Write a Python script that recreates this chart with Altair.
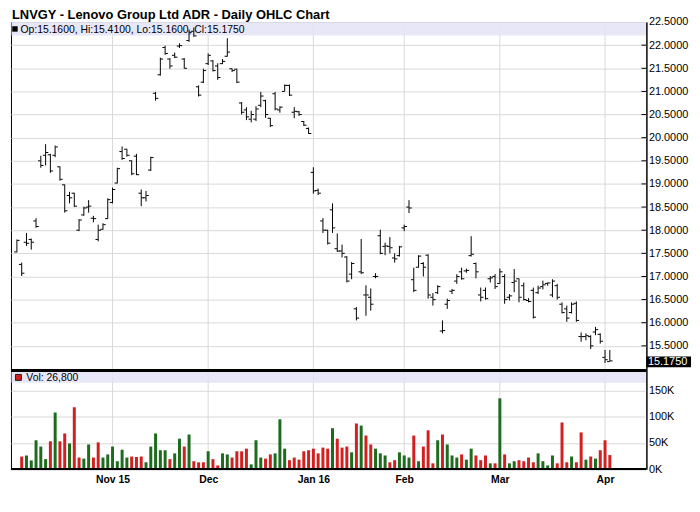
import json
import altair as alt
import pandas as pd

chart_title = "LNVGY - Lenovo Group Ltd ADR - Daily OHLC Chart"

# trading-day index of the first session of each month, and its label
month_idx = [20, 40, 62, 81, 101, 123]
month_labels = ["Nov 15", "Dec", "Jan 16", "Feb", "Mar", "Apr"]

price_ticks = [15.5, 16.0, 16.5, 17.0, 17.5, 18.0, 18.5, 19.0, 19.5, 20.0,
               20.5, 21.0, 21.5, 22.0, 22.5]
vol_ticks = [0, 50000, 100000, 150000]

opens = [17.53, 17.26, 17.74, 17.80, 18.20, 19.50, 19.62, 19.63, 19.62, 19.37,
         18.98, 18.75, 18.80, 18.00, 18.33, 18.50, 18.26, 17.80, 18.02, 18.25,
         18.60, 19.02, 19.70, 19.75, 19.50, 19.60, 18.80, 18.70, 19.30, 20.96,
         21.36, 21.95, 21.70, 21.78, 21.98, 21.70, 22.10, 22.30, 21.10, 21.20,
         21.60, 21.66, 21.55, 21.60, 21.76, 21.49, 21.48, 20.75, 20.60, 20.40,
         20.40, 20.70, 20.80, 20.42, 20.95, 20.60, 21.00, 21.13, 20.55, 20.56,
         20.35, 20.20, 19.25, 18.86, 18.20, 18.00, 18.44, 17.60, 17.55, 17.42,
         17.05, 16.30, 17.10, 16.60, 16.55, 17.00, 17.88, 17.65, 17.65, 17.40,
         17.45, 18.05, 18.50, 16.93, 17.20, 17.28, 17.46, 16.55, 16.65, 15.82,
         16.40, 16.68, 16.90, 17.10, 17.12, 17.45, 17.28, 16.60, 16.70, 16.95,
         17.00, 16.85, 17.00, 16.55, 16.87, 16.95, 16.80, 16.48, 16.70, 16.65,
         16.78, 16.85, 16.60, 16.80, 16.40, 16.30, 16.22, 16.42, 15.70, 15.70,
         15.70, 15.80, 15.75, 15.25, 15.16]
highs = [17.80, 17.30, 17.94, 17.82, 18.26, 19.61, 19.86, 19.65, 19.83, 19.38,
         18.99, 18.83, 18.81, 18.24, 18.51, 18.65, 18.31, 18.12, 18.15, 18.69,
         18.92, 19.35, 19.81, 19.76, 19.51, 19.65, 18.88, 18.85, 19.59, 20.99,
         21.73, 21.99, 21.72, 21.84, 22.04, 21.72, 22.34, 22.38, 21.13, 21.49,
         21.82, 21.68, 21.61, 21.70, 22.15, 21.50, 21.49, 20.77, 20.66, 20.58,
         20.68, 20.99, 20.82, 20.43, 20.99, 20.68, 21.15, 21.15, 20.66, 20.58,
         20.36, 20.22, 19.36, 18.90, 18.26, 18.01, 18.58, 17.93, 17.69, 17.44,
         17.31, 16.34, 17.81, 16.81, 16.74, 17.07, 18.01, 17.73, 17.85, 17.50,
         17.66, 18.12, 18.65, 17.19, 17.46, 17.31, 17.48, 16.64, 16.81, 16.05,
         16.52, 16.73, 17.05, 17.19, 17.17, 17.87, 17.30, 16.76, 16.76, 17.01,
         17.05, 17.17, 17.05, 16.62, 17.16, 16.96, 16.87, 16.53, 16.76, 16.80,
         16.91, 16.87, 16.94, 16.84, 16.44, 16.37, 16.44, 16.46, 15.79, 15.77,
         15.73, 15.91, 15.77, 15.41, 15.41]
lows = [17.52, 17.01, 17.66, 17.58, 18.05, 19.35, 19.40, 19.24, 19.58, 19.07,
        18.38, 18.58, 18.50, 17.98, 18.31, 18.38, 18.17, 17.76, 18.01, 18.24,
        18.58, 19.01, 19.52, 19.59, 19.19, 19.19, 18.52, 18.62, 19.28, 20.80,
        21.34, 21.79, 21.49, 21.72, 21.94, 21.49, 22.07, 22.18, 20.89, 21.18,
        21.57, 21.43, 21.25, 21.59, 21.75, 21.42, 21.18, 20.50, 20.38, 20.33,
        20.36, 20.66, 20.43, 20.23, 20.59, 20.54, 21.00, 20.90, 20.42, 20.47,
        20.25, 20.08, 18.79, 18.76, 17.94, 17.69, 17.94, 17.53, 17.41, 16.87,
        16.94, 16.05, 17.05, 16.15, 16.26, 16.96, 17.48, 17.46, 17.50, 17.30,
        17.43, 17.98, 18.37, 16.66, 17.19, 17.00, 16.52, 16.37, 16.62, 15.77,
        16.30, 16.62, 16.84, 16.93, 17.08, 17.43, 16.96, 16.46, 16.50, 16.87,
        16.73, 16.84, 16.41, 16.48, 16.66, 16.44, 16.48, 16.44, 16.09, 16.62,
        16.72, 16.80, 16.55, 16.50, 16.20, 16.02, 16.20, 16.02, 15.59, 15.62,
        15.43, 15.73, 15.55, 15.13, 15.16]
closes = [17.78, 17.07, 17.72, 17.74, 18.08, 19.40, 19.68, 19.28, 19.80, 19.10,
          18.42, 18.70, 18.52, 18.22, 18.48, 18.52, 18.25, 18.00, 18.12, 18.66,
          18.88, 19.33, 19.55, 19.62, 19.22, 19.20, 18.70, 18.75, 19.57, 20.85,
          21.70, 21.82, 21.55, 21.74, 21.99, 21.50, 22.28, 22.20, 20.92, 21.45,
          21.78, 21.45, 21.30, 21.65, 21.85, 21.45, 21.20, 20.55, 20.45, 20.50,
          20.62, 20.90, 20.50, 20.26, 20.62, 20.66, 21.13, 20.92, 20.57, 20.50,
          20.27, 20.09, 18.85, 18.80, 18.00, 17.72, 18.05, 17.55, 17.50, 16.90,
          17.28, 16.10, 17.08, 16.60, 16.40, 17.00, 17.50, 17.66, 17.62, 17.38,
          17.64, 18.08, 18.48, 16.70, 17.44, 17.20, 16.60, 16.50, 16.78, 15.83,
          16.48, 16.70, 17.00, 16.95, 17.13, 17.48, 17.10, 16.55, 16.52, 16.97,
          16.78, 17.10, 16.50, 16.58, 16.90, 16.55, 16.50, 16.46, 16.12, 16.75,
          16.82, 16.86, 16.90, 16.55, 16.22, 16.10, 16.40, 16.05, 15.70, 15.72,
          15.50, 15.85, 15.60, 15.20, 15.175]
volumes = [None, 24000, 26000, 16500, 55000, 43000, 19000, 53000, 108000, 53000,
           68000, 49000, 118000, 22000, 20000, 47000, 22000, 51000, 22000, 28000,
           43000, 15000, 37000, 22000, 24000, 23000, 24000, 13000, 43000, 68000,
           36000, 36000, 19000, 30000, 58000, 43000, 66000, 15000, 13000, 13000,
           34000, 19000, 7000, 30000, 28000, 22000, 34000, 34000, 39000, 9000,
           55000, 22000, 20000, 28000, 30000, 95000, 39000, 17000, 22000, 18000,
           34000, 36000, 39000, 30000, 41000, 39000, 78000, 58000, 41000, 43000,
           32000, 87000, 83000, 64000, 47000, 39000, 30000, 26000, 13000, 17000,
           32000, 26000, 22000, 64000, 15000, 43000, 74000, 11000, 55000, 66000,
           47000, 26000, 22000, 28000, 18000, 39000, 26000, 17000, 26000, 11000,
           11000, 135000, 28000, 11000, 15000, 17000, 15000, 22000, 13000, 30000,
           15000, 7000, 26000, 11000, 89000, 13000, 24000, 13000, 70000, 18000,
           24000, 20000, 36000, 55000, 26800]
# u = volume bar drawn green (up), d = red (down)
vol_dir = [None,
           "d", "u", "u", "u", "u", "u", "d", "u", "d", "d",
           "u", "d", "d", "u", "u", "d", "d", "u", "u", "u",
           "u", "u", "u", "d", "d", "d", "u", "u", "u", "u",
           "u", "d", "u", "u", "d", "u", "d", "d", "d", "u",
           "d", "d", "u", "u", "d", "d", "d", "d", "u", "u",
           "u", "d", "d", "u", "u", "u", "d", "d", "d", "d",
           "d", "d", "d", "d", "d", "u", "d", "d", "d", "u",
           "d", "u", "d", "d", "u", "u", "u", "d", "d", "u",
           "u", "u", "d", "u", "d", "d", "d", "u", "d", "u",
           "u", "u", "d", "u", "u", "d", "d", "d", "u", "d",
           "u", "d", "u", "u", "d", "d", "d", "d", "u", "u",
           "u", "u", "d", "d", "d", "u", "d", "d", "u", "d",
           "u", "d", "d", "d"]

n = len(opens)
df = pd.DataFrame({"i": list(range(n)), "open": opens, "high": highs, "low": lows,
                   "close": closes, "volume": volumes, "dir": vol_dir})

FONT = "Liberation Sans"
W, H, PH = 641, 451, 350
GRID = "#d9d9d9"
BAND = "#e3e3f6"
GREEN, RED = "#1d6b1d", "#d21f1f"

xscale = alt.Scale(domain=[-0.204, 130.612], nice=False, zero=False)
label_expr = "%s[indexof(%s, datum.value)]" % (json.dumps(month_labels), json.dumps(month_idx))
xaxis = alt.Axis(values=month_idx, labelExpr=label_expr, grid=False,
                 ticks=False, tickSize=0, domain=False, labelFont=FONT,
                 labelFontWeight="bold", labelFontSize=10.5, labelColor="#000",
                 labelPadding=6, title=None, labelFlush=False, labelOverlap=False)
X = alt.X("i:Q", scale=xscale, axis=xaxis)

pscale = alt.Scale(domain=[15, 22.5], range=[PH, 0], nice=False, zero=False)
paxis = alt.Axis(orient="right", values=price_ticks, format=".4f", grid=True,
                 gridColor=GRID, ticks=False, tickSize=0, domain=True,
                 domainColor="#000", domainWidth=1, labelFont=FONT, labelFontSize=11,
                 labelColor="#000", labelPadding=2, title=None, labelFlush=False,
                 labelOverlap=False)

vscale = alt.Scale(domain=[0, 191000], range=[H, PH], nice=False, zero=True)
vaxis = alt.Axis(orient="right", values=vol_ticks, labelExpr="(datum.value/1000) + 'K'",
                 grid=True, gridColor=GRID, ticks=False, tickSize=0, domain=True,
                 domainColor="#000", domainWidth=1, labelFont=FONT, labelFontSize=11,
                 labelColor="#000", labelPadding=2, title=None, labelFlush=False,
                 labelOverlap=False)

base = alt.Chart(df)
one = pd.DataFrame({"k": [0]})
last = df.tail(1).copy()
last["txt"] = last["close"].map(lambda v: f"{v:.4f}")

ohlc_text = "Op:%.4f, Hi:%.4f, Lo:%.4f, Cl:%.4f" % (opens[-1], highs[-1], lows[-1], closes[-1])
vol_text = "Vol: {:,}".format(int(volumes[-1]))

# ---------- month gridlines (both panels) ----------
vgrid = alt.Chart(pd.DataFrame({"i": month_idx})).mark_rule(color=GRID, strokeWidth=1).encode(
    x=X, y=alt.value(0), y2=alt.value(H))

# ---------- price panel ----------
pband = alt.Chart(one).mark_rect(color=BAND, opacity=0.85).encode(
    x=alt.value(0.5), x2=alt.value(W - 0.5), y=alt.value(0.5), y2=alt.value(13.5))
psq = alt.Chart(one).mark_square(color="#000", size=30, opacity=1).encode(
    x=alt.value(4), y=alt.value(7))
ptxt = alt.Chart(pd.DataFrame({"t": [ohlc_text]})).mark_text(
    align="left", baseline="alphabetic", font=FONT, fontSize=10.5, color="#000").encode(
    x=alt.value(9.5), y=alt.value(11.3), text="t:N")
title_txt = alt.Chart(pd.DataFrame({"t": [chart_title]})).mark_text(
    align="left", baseline="alphabetic", font=FONT, fontSize=13, fontWeight="bold",
    color="#000").encode(x=alt.value(1), y=alt.value(-3.2), text="t:N")

hl = base.mark_rule(color="#000", strokeWidth=1).encode(
    x=X, y=alt.Y("low:Q", scale=pscale, axis=paxis), y2="high:Q")
op = base.mark_tick(orient="horizontal", color="#000", size=2.5, thickness=1,
                    opacity=1, xOffset=-1.5).encode(
    x=X, y=alt.Y("open:Q", scale=pscale, axis=paxis))
cl = base.mark_tick(orient="horizontal", color="#000", size=2.5, thickness=1,
                    opacity=1, xOffset=1.5).encode(
    x=X, y=alt.Y("close:Q", scale=pscale, axis=paxis))
ptk = alt.Chart(pd.DataFrame({"p": price_ticks[:-1]})).mark_rule(color="#000").encode(
    y=alt.Y("p:Q", scale=pscale, axis=paxis), x=alt.value(W - 5), x2=alt.value(W))
box = alt.Chart(last).mark_tick(orient="horizontal", color="#000", size=45,
                                thickness=11, opacity=1, yOffset=1).encode(
    x=alt.value(W + 22.5), y=alt.Y("close:Q", scale=pscale, axis=paxis))
boxtxt = alt.Chart(last).mark_text(align="left", baseline="middle", font=FONT,
                                   fontSize=11, color="#fff", dy=1).encode(
    x=alt.value(W + 1.5), y=alt.Y("close:Q", scale=pscale, axis=paxis), text="txt:N")

price = alt.layer(pband, hl, op, cl, ptk, box, boxtxt, psq, ptxt, title_txt)

# ---------- volume panel ----------
vbar = base.mark_bar(size=3).encode(
    x=X, y=alt.Y("volume:Q", scale=vscale, axis=vaxis),
    color=alt.Color("dir:N", scale=alt.Scale(domain=["u", "d"], range=[GREEN, RED]),
                    legend=None))
sep = alt.Chart(one).mark_rule(color="#000", strokeWidth=3).encode(
    x=alt.value(0), x2=alt.value(W), y=alt.value(PH + 1.5))
bottom = alt.Chart(one).mark_rule(color="#000", strokeWidth=2).encode(
    x=alt.value(0), x2=alt.value(W), y=alt.value(H))
vband = alt.Chart(one).mark_rect(color=BAND, opacity=0.85).encode(
    x=alt.value(0.5), x2=alt.value(W - 0.5), y=alt.value(PH + 3), y2=alt.value(PH + 14))
vsq = alt.Chart(one).mark_square(color=RED, size=36, opacity=1, stroke="#000",
                                 strokeWidth=0.8).encode(
    x=alt.value(7.5), y=alt.value(PH + 8.5))
vtxt = alt.Chart(pd.DataFrame({"t": [vol_text]})).mark_text(
    align="left", baseline="alphabetic", font=FONT, fontSize=10.5, color="#000").encode(
    x=alt.value(15.5), y=alt.value(PH + 12), text="t:N")

volume = alt.layer(vbar, vband, vsq, vtxt, sep, bottom)

chart = alt.layer(vgrid, price, volume).resolve_scale(y="independent").resolve_axis(
    y="independent").properties(
    width=W, height=H,
    autosize=alt.AutoSizeParams(type="none"),
    padding={"left": 3, "top": 12, "right": 46, "bottom": 26},
).configure_view(stroke="#000", strokeWidth=1)

chart.save("out.html", embed_options={"renderer": "svg", "actions": False})
